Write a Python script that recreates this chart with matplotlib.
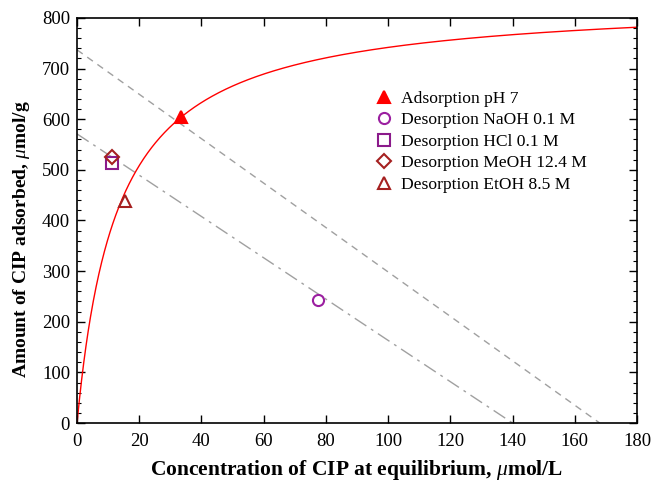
import numpy as np
import matplotlib
matplotlib.use("Agg")
import matplotlib.pyplot as plt
from matplotlib.ticker import MultipleLocator

plt.rcParams['font.family'] = ['Liberation Serif', 'DejaVu Serif']
plt.rcParams['mathtext.fontset'] = 'custom'
plt.rcParams['mathtext.rm'] = 'Liberation Serif'
plt.rcParams['mathtext.it'] = 'Liberation Serif:italic'
plt.rcParams['mathtext.bf'] = 'Liberation Serif:bold'

# Langmuir model parameters (fitted curve)
qm = 838.0
K = 0.0772

# Operating lines (endpoints: intercept on y, intercept on x)
line1_y0, line1_x0 = 737.0, 168.0
line2_y0, line2_x0 = 571.0, 140.0

# Data points
labels = ["Adsorption pH 7", "Desorption NaOH 0.1 M", "Desorption HCl 0.1 M",
          "Desorption MeOH 12.4 M", "Desorption EtOH 8.5 M"]
x_vals = [33.4, 77.5, 11.2, 11.2, 15.4]
y_vals = [604, 243, 514, 526, 439]
markers = ["^", "o", "s", "D", "^"]
colors = ["#ff0000", "#9b1fa0", "#8b1a8b", "#a52020", "#a52020"]
filled = [True, False, False, False, False]
sizes = [8, 8, 9, 7, 8]

fig = plt.figure(figsize=(6.53, 4.82), dpi=100)
ax = fig.add_axes([0.118, 0.1224, 0.8575, 0.8403])

C = np.linspace(0, 180, 1000)
ax.plot(C, qm * K * C / (1 + K * C), color="red", lw=1.0, zorder=2)
ax.plot([0, line1_x0], [line1_y0, 0], color="#a0a0a0", lw=1.0, ls=(0, (5, 4)), zorder=1)
ax.plot([0, line2_x0], [line2_y0, 0], color="#a0a0a0", lw=1.0, ls=(0, (10, 4, 2, 4)), zorder=1)

for xv, yv, m, c, f, s, lab in zip(x_vals, y_vals, markers, colors, filled, sizes, labels):
    ax.plot([xv], [yv], ls="none", marker=m, ms=s, color=c,
            mfc=c if f else "none", mec=c, mew=1.5, label=lab, zorder=3)

ax.set_xlim(0, 180)
ax.set_ylim(0, 800)
ax.xaxis.set_major_locator(MultipleLocator(20))
ax.yaxis.set_major_locator(MultipleLocator(100))
ax.yaxis.set_minor_locator(MultipleLocator(20))
ax.tick_params(direction="in", top=True, right=True, labelsize=13.5, length=6, width=1)
ax.tick_params(axis="x", pad=7)
ax.tick_params(axis="y", pad=5)
ax.tick_params(which="minor", direction="in", right=True, length=3, width=0.8)
for sp in ax.spines.values():
    sp.set_linewidth(1.2)

ax.set_xlabel(r"Concentration of CIP at equilibrium, $\mu$mol/L", fontsize=15.5, fontweight="bold")
ax.xaxis.set_label_coords(0.5, -0.087)
ax.set_ylabel(r"Amount of CIP adsorbed, $\mu$mol/g", fontsize=14, fontweight="bold")
ax.yaxis.set_label_coords(-0.080, 0.455)

ax.legend(loc="upper left", bbox_to_anchor=(0.52, 0.838), frameon=False, fontsize=12.6,
          handletextpad=0.5, labelspacing=0.3, handlelength=1.0, borderaxespad=0)

fig.savefig("out.png", dpi=100)
